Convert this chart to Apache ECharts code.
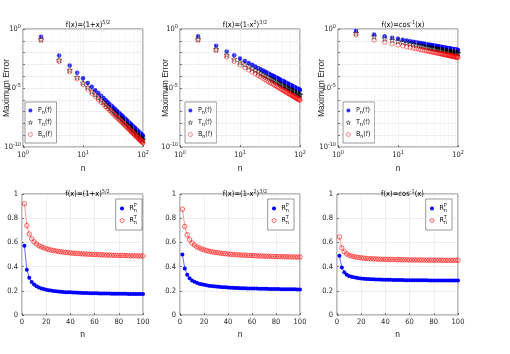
<!DOCTYPE html>
<html>
<head>
<meta charset="utf-8">
<script src="https://cdn.jsdelivr.net/npm/echarts@6/dist/echarts.min.js"></script>
<style>
  html, body { margin: 0; padding: 0; background: #fff; }
  #main { width: 510px; height: 354px; }
</style>
</head>
<body>
<div id="main"></div>
<script>
// n = 2, 4, ..., 100
const nVals = [2, 4, 6, 8, 10, 12, 14, 16, 18, 20, 22, 24, 26, 28, 30, 32, 34, 36, 38, 40,
  42, 44, 46, 48, 50, 52, 54, 56, 58, 60, 62, 64, 66, 68, 70, 72, 74, 76, 78, 80,
  82, 84, 86, 88, 90, 92, 94, 96, 98, 100];

// log-axis minor grid positions
const minorX = [2, 3, 4, 5, 6, 7, 8, 9, 20, 30, 40, 50, 60, 70, 80, 90];

const titles = ['f(x)=(1+x){sup|5/2}', 'f(x)=(1-x{sup|2}){sup|3/2}', 'f(x)=cos{sup|-1}(x)'];

// maximum error, f(x)=(1+x)^(5/2)
const P1 = [2.2e-1, 5.8e-3, 8.0e-4, 1.95e-4, 6.6e-5, 2.7e-5, 1.27e-5, 6.6e-6, 3.7e-6, 2.23e-6,
  1.41e-6, 9.2e-7, 6.2e-7, 4.3e-7, 3.1e-7, 2.25e-7, 1.68e-7, 1.27e-7, 9.7e-8, 7.6e-8,
  6.0e-8, 4.8e-8, 3.8e-8, 3.1e-8, 2.55e-8, 2.1e-8, 1.76e-8, 1.47e-8, 1.24e-8, 1.05e-8,
  9.0e-9, 7.7e-9, 6.6e-9, 5.7e-9, 4.9e-9, 4.3e-9, 3.8e-9, 3.3e-9, 2.9e-9, 2.6e-9,
  2.28e-9, 2.04e-9, 1.82e-9, 1.63e-9, 1.45e-9, 1.3e-9, 1.17e-9, 1.06e-9, 9.6e-10, 8.7e-10];
const T1 = [1.32e-1, 2.4e-3, 3.35e-4, 8.3e-5, 2.8e-5, 1.16e-5, 5.5e-6, 2.9e-6, 1.63e-6, 9.8e-7,
  6.2e-7, 4.05e-7, 2.74e-7, 1.92e-7, 1.37e-7, 1.0e-7, 7.5e-8, 5.7e-8, 4.3e-8, 3.4e-8,
  2.69e-8, 2.16e-8, 1.72e-8, 1.41e-8, 1.15e-8, 9.5e-9, 8.0e-9, 6.7e-9, 5.6e-9, 4.8e-9,
  4.07e-9, 3.48e-9, 2.98e-9, 2.61e-9, 2.25e-9, 1.97e-9, 1.72e-9, 1.5e-9, 1.33e-9, 1.18e-9,
  1.04e-9, 9.3e-10, 8.3e-10, 7.5e-10, 6.6e-10, 5.9e-10, 5.35e-10, 4.84e-10, 4.38e-10, 3.96e-10];
const B1 = [1.17e-1, 1.82e-3, 2.45e-4, 5.9e-5, 1.97e-5, 8.0e-6, 3.72e-6, 1.93e-6, 1.08e-6, 6.4e-7,
  4.03e-7, 2.61e-7, 1.76e-7, 1.22e-7, 8.65e-8, 6.28e-8, 4.67e-8, 3.52e-8, 2.68e-8, 2.09e-8,
  1.64e-8, 1.31e-8, 1.04e-8, 8.49e-9, 6.94e-9, 5.72e-9, 4.75e-9, 3.97e-9, 3.34e-9, 2.82e-9,
  2.4e-9, 2.05e-9, 1.75e-9, 1.53e-9, 1.31e-9, 1.15e-9, 1.0e-9, 8.75e-10, 7.74e-10, 6.81e-10,
  6.02e-10, 5.37e-10, 4.79e-10, 4.29e-10, 3.8e-10, 3.41e-10, 3.07e-10, 2.77e-10, 2.5e-10, 2.26e-10];

// f(x)=(1-x^2)^(3/2)
const P2 = [2.4e-1, 3.74e-2, 1.26e-2, 5.85e-3, 3.21e-3, 1.97e-3, 1.3e-3, 9.12e-4, 6.65e-4, 5.01e-4,
  3.89e-4, 3.08e-4, 2.48e-4, 2.04e-4, 1.69e-4, 1.42e-4, 1.21e-4, 1.04e-4, 8.95e-5, 7.82e-5,
  6.87e-5, 6.07e-5, 5.37e-5, 4.81e-5, 4.3e-5, 3.87e-5, 3.51e-5, 3.18e-5, 2.9e-5, 2.64e-5,
  2.42e-5, 2.22e-5, 2.04e-5, 1.89e-5, 1.75e-5, 1.62e-5, 1.51e-5, 1.4e-5, 1.31e-5, 1.22e-5,
  1.14e-5, 1.07e-5, 1.01e-5, 9.48e-6, 8.91e-6, 8.38e-6, 7.93e-6, 7.5e-6, 7.1e-6, 6.71e-6];
const T2 = [1.35e-1, 1.96e-2, 6.35e-3, 2.87e-3, 1.54e-3, 9.26e-4, 6.02e-4, 4.17e-4, 3.01e-4, 2.24e-4,
  1.72e-4, 1.35e-4, 1.08e-4, 8.81e-5, 7.25e-5, 6.05e-5, 5.13e-5, 4.38e-5, 3.75e-5, 3.26e-5,
  2.85e-5, 2.51e-5, 2.21e-5, 1.97e-5, 1.75e-5, 1.57e-5, 1.42e-5, 1.28e-5, 1.17e-5, 1.06e-5,
  9.66e-6, 8.84e-6, 8.08e-6, 7.47e-6, 6.9e-6, 6.37e-6, 5.92e-6, 5.47e-6, 5.11e-6, 4.75e-6,
  4.42e-6, 4.14e-6, 3.9e-6, 3.65e-6, 3.42e-6, 3.21e-6, 3.03e-6, 2.87e-6, 2.71e-6, 2.55e-6];
const B2 = [1.17e-1, 1.47e-2, 4.33e-3, 1.84e-3, 9.37e-4, 5.44e-4, 3.42e-4, 2.3e-4, 1.62e-4, 1.17e-4,
  8.87e-5, 6.81e-5, 5.36e-5, 4.28e-5, 3.48e-5, 2.87e-5, 2.4e-5, 2.02e-5, 1.71e-5, 1.47e-5,
  1.27e-5, 1.1e-5, 9.67e-6, 8.51e-6, 7.53e-6, 6.7e-6, 6.0e-6, 5.37e-6, 4.84e-6, 4.36e-6,
  3.94e-6, 3.6e-6, 3.26e-6, 2.99e-6, 2.75e-6, 2.53e-6, 2.33e-6, 2.14e-6, 1.99e-6, 1.83e-6,
  1.7e-6, 1.58e-6, 1.48e-6, 1.38e-6, 1.29e-6, 1.21e-6, 1.13e-6, 1.07e-6, 1.0e-6, 9.39e-7];

// f(x)=acos(x)
const P3 = [6.76e-1, 3.5e-1, 2.38e-1, 1.81e-1, 1.47e-1, 1.23e-1, 1.06e-1, 9.38e-2, 8.39e-2, 7.59e-2,
  6.93e-2, 6.38e-2, 5.92e-2, 5.51e-2, 5.16e-2, 4.85e-2, 4.58e-2, 4.35e-2, 4.12e-2, 3.93e-2,
  3.75e-2, 3.59e-2, 3.44e-2, 3.3e-2, 3.18e-2, 3.06e-2, 2.96e-2, 2.85e-2, 2.76e-2, 2.67e-2,
  2.59e-2, 2.51e-2, 2.44e-2, 2.38e-2, 2.31e-2, 2.25e-2, 2.19e-2, 2.13e-2, 2.08e-2, 2.03e-2,
  1.99e-2, 1.94e-2, 1.9e-2, 1.86e-2, 1.82e-2, 1.78e-2, 1.75e-2, 1.71e-2, 1.67e-2, 1.64e-2];
const T3 = [4.57e-1, 2.27e-1, 1.51e-1, 1.13e-1, 9.03e-2, 7.47e-2, 6.37e-2, 5.6e-2, 4.98e-2, 4.47e-2,
  4.06e-2, 3.71e-2, 3.43e-2, 3.18e-2, 2.96e-2, 2.78e-2, 2.61e-2, 2.48e-2, 2.33e-2, 2.22e-2,
  2.12e-2, 2.01e-2, 1.93e-2, 1.84e-2, 1.77e-2, 1.7e-2, 1.64e-2, 1.58e-2, 1.52e-2, 1.47e-2,
  1.43e-2, 1.38e-2, 1.34e-2, 1.3e-2, 1.26e-2, 1.23e-2, 1.19e-2, 1.16e-2, 1.13e-2, 1.1e-2,
  1.08e-2, 1.05e-2, 1.03e-2, 1.0e-2, 9.79e-3, 9.56e-3, 9.4e-3, 9.17e-3, 8.95e-3, 8.77e-3];
const B3 = [3.31e-1, 1.17e-1, 7.67e-2, 5.68e-2, 4.49e-2, 3.71e-2, 3.16e-2, 2.74e-2, 2.42e-2, 2.17e-2,
  1.96e-2, 1.79e-2, 1.64e-2, 1.52e-2, 1.42e-2, 1.32e-2, 1.24e-2, 1.17e-2, 1.1e-2, 1.05e-2,
  9.95e-3, 9.48e-3, 9.04e-3, 8.65e-3, 8.28e-3, 7.94e-3, 7.64e-3, 7.36e-3, 7.1e-3, 6.84e-3,
  6.61e-3, 6.4e-3, 6.18e-3, 6.0e-3, 5.82e-3, 5.65e-3, 5.5e-3, 5.33e-3, 5.19e-3, 5.06e-3,
  4.92e-3, 4.81e-3, 4.69e-3, 4.58e-3, 4.47e-3, 4.37e-3, 4.27e-3, 4.18e-3, 4.09e-3, 4.0e-3];

// ratios R_n^P, R_n^T
const RP1 = [.573, .375, .307, .273, .252, .238, .228, .220, .214, .209, .205, .202, .199, .196, .194, .192, .191, .189, .188, .187,
  .186, .185, .184, .183, .182, .182, .181, .180, .180, .179, .179, .178, .178, .177, .177, .177, .176, .176, .176, .175,
  .175, .175, .175, .174, .174, .174, .174, .173, .173, .173];
const RT1 = [.920, .739, .669, .630, .604, .587, .573, .563, .555, .548, .542, .537, .533, .529, .525, .523, .520, .517, .515, .513,
  .511, .510, .508, .507, .505, .504, .503, .502, .501, .500, .499, .498, .497, .496, .496, .495, .494, .494, .493, .492,
  .492, .491, .491, .490, .490, .489, .489, .488, .488, .488];
const RP2 = [.500, .385, .333, .303, .286, .275, .266, .259, .254, .249, .246, .242, .240, .237, .235, .233, .231, .230, .229, .227,
  .226, .225, .224, .223, .222, .222, .221, .220, .219, .219, .218, .218, .217, .217, .216, .216, .215, .215, .215, .214,
  .214, .213, .213, .213, .213, .212, .212, .212, .211, .211];
const RT2 = [.875, .732, .662, .622, .595, .578, .564, .554, .546, .539, .533, .528, .524, .520, .516, .514, .511, .508, .506, .504,
  .502, .501, .499, .498, .496, .495, .494, .493, .492, .491, .490, .489, .488, .487, .487, .486, .485, .485, .484, .483,
  .483, .482, .482, .481, .481, .480, .480, .479, .479, .479];
const RP3 = [.489, .392, .354, .333, .323, .316, .311, .307, .304, .302, .300, .298, .297, .296, .295, .294, .293, .293, .292, .291,
  .291, .291, .290, .290, .289, .289, .289, .288, .288, .288, .288, .288, .287, .287, .287, .287, .287, .286, .286, .286,
  .286, .286, .286, .286, .286, .286, .285, .285, .285, .285];
const RT3 = [.645, .554, .522, .505, .494, .487, .482, .478, .475, .472, .470, .468, .466, .465, .464, .463, .462, .461, .460, .460,
  .459, .459, .458, .458, .457, .457, .456, .456, .456, .455, .455, .455, .455, .454, .454, .454, .454, .453, .453, .453,
  .453, .453, .453, .452, .452, .452, .452, .452, .452, .452];

const errSets = [[P1, T1, B1], [P2, T2, B2], [P3, T3, B3]];
const ratioSets = [[RP1, RT1], [RP2, RT2], [RP3, RT3]];

const NARROW = "'Liberation Sans Narrow', 'DejaVu Sans Condensed', 'Liberation Sans', sans-serif";
const SANS = "'Liberation Sans', Arial, sans-serif";
const AX = '#262626';
const STAR = 'path://M0,-10L2.35,-3.24L9.51,-3.09L3.8,1.24L5.88,8.09L0,4L-5.88,8.09L-3.8,1.24L-9.51,-3.09L-2.35,-3.24Z';

const rich = {
  sup: { fontSize: 5.5, lineHeight: 6, verticalAlign: 'top', fontFamily: NARROW, color: AX },
  sub: { fontSize: 5.5, lineHeight: 6, verticalAlign: 'bottom', fontFamily: NARROW, color: '#000' },
  subz: { fontSize: 5.5, lineHeight: 6, verticalAlign: 'bottom', width: 0, fontFamily: NARROW, color: '#000' }
};

const gridPos = [
  { left: 23, top: 29, width: 120, height: 118 },
  { left: 180, top: 29, width: 120, height: 118 },
  { left: 338, top: 29, width: 120, height: 118 },
  { left: 22, top: 194, width: 121, height: 121 },
  { left: 180, top: 194, width: 120, height: 121 },
  { left: 337, top: 194, width: 121, height: 121 }
];

function zip(ys) {
  return nVals.map((n, i) => [n, ys[i]]);
}

function decadeLabel(v) {
  const e = Math.round(Math.log10(v));
  return '10{sup|' + e + '}';
}

function errLabel(v) {
  const e = Math.round(Math.log10(v));
  if (e % 5 !== 0) return '';
  return '10{sup|' + e + '}';
}

const legendText = {
  P: 'P{sub|n}(f)', T: 'T{sub|n}(f)', B: 'B{sub|n}(f)',
  RP: 'R{subz|n}{sup|P}', RT: 'R{subz|n}{sup|T}'
};

const blueDot = { color: '#0000ff', borderWidth: 0 };
const redRing = { color: 'rgba(0,0,0,0)', borderColor: '#ff0000', borderWidth: 0.6 };
const blackStar = { color: 'rgba(0,0,0,0)', borderColor: '#000', borderWidth: 0.6 };

const axisCommon = {
  axisLine: { show: false },
  axisTick: { show: true, inside: true, length: 2, lineStyle: { color: AX, width: 0.6 } },
  splitLine: { show: true, lineStyle: { color: '#e4e4e4', width: 0.6 } },
  nameMoveOverlap: false,
  nameTextStyle: { fontFamily: SANS, fontSize: 8.5, color: AX }
};

const grid = gridPos.map(p => Object.assign({
  show: true, borderColor: AX, borderWidth: 0.6, backgroundColor: '#fff',
  containLabel: false, outerBoundsMode: 'none'
}, p));

const title = [];
const xAxis = [];
const yAxis = [];
const series = [];
const legend = [];

const legendBase = {
  orient: 'vertical', backgroundColor: '#fff', borderColor: '#555', borderWidth: 0.6,
  padding: [3, 4, 3, 3], itemWidth: 5, itemHeight: 4, itemGap: 1,
  selectedMode: false,
  textStyle: { fontFamily: NARROW, fontSize: 7, lineHeight: 11, color: '#000', rich: rich },
  formatter: name => legendText[name.replace(/\d/g, '')]
};

const topLegendLeft = [25, 185, 343];
const botLegendRight = [368, 216, 58];

for (let i = 0; i < 6; i++) {
  const p = gridPos[i];
  title.push({
    text: titles[i % 3],
    left: p.left + p.width / 2, top: i < 3 ? 15 : 183.5, textAlign: 'center',
    textStyle: { fontFamily: NARROW, fontSize: 7.5, fontWeight: 'normal', color: '#000', lineHeight: 11, rich: rich }
  });
}

// top row: maximum error, log-log
for (let i = 0; i < 3; i++) {
  xAxis.push(Object.assign({}, axisCommon, {
    gridIndex: i, type: 'log', logBase: 10, min: 1, max: 100, interval: 1,
    name: 'n', nameLocation: 'middle', nameGap: 17,
    axisLabel: { formatter: decadeLabel, fontFamily: NARROW, fontSize: 7.5, color: AX, margin: 3, lineHeight: 11, rich: rich }
  }));
  yAxis.push(Object.assign({}, axisCommon, {
    gridIndex: i, type: 'log', logBase: 10, min: 1e-10, max: 1, interval: 1,
    name: 'Maximum Error', nameLocation: 'middle', nameGap: i === 1 ? 10 : 12,
    axisLabel: { formatter: errLabel, fontFamily: NARROW, fontSize: 7.5, color: AX, margin: 2, lineHeight: 11, rich: rich }
  }));

  // minor vertical grid lines at 2..9, 20..90
  series.push({
    name: 'minor' + i, type: 'line', xAxisIndex: i, yAxisIndex: i, data: [], z: 1,
    markLine: {
      silent: true, symbol: 'none', label: { show: false }, animation: false,
      lineStyle: { color: '#e8e8e8', width: 0.6, type: 'dotted' },
      data: minorX.map(v => ({ xAxis: v }))
    }
  });

  const [P, T, B] = errSets[i];
  series.push({
    name: 'P' + (i + 1), type: 'scatter', xAxisIndex: i, yAxisIndex: i, z: 3,
    symbol: 'circle', symbolSize: 4.5, itemStyle: blueDot,
    data: zip(P)
  });
  series.push({
    name: 'T' + (i + 1), type: 'scatter', xAxisIndex: i, yAxisIndex: i, z: 4,
    symbol: STAR, symbolSize: 5.5, itemStyle: blackStar,
    data: zip(T)
  });
  series.push({
    name: 'B' + (i + 1), type: 'scatter', xAxisIndex: i, yAxisIndex: i, z: 5,
    symbol: 'circle', symbolSize: 4.5, itemStyle: redRing,
    data: zip(B)
  });

  legend.push(Object.assign({}, legendBase, {
    left: topLegendLeft[i], top: 102,
    data: [
      { name: 'P' + (i + 1), icon: 'circle', itemStyle: blueDot },
      { name: 'T' + (i + 1), icon: STAR, itemStyle: blackStar },
      { name: 'B' + (i + 1), icon: 'circle', itemStyle: redRing }
    ]
  }));
}

// bottom row: ratios, linear axes
for (let i = 0; i < 3; i++) {
  const g = i + 3;
  xAxis.push(Object.assign({}, axisCommon, {
    gridIndex: g, type: 'value', min: 0, max: 100, interval: 20,
    name: 'n', nameLocation: 'middle', nameGap: 15,
    axisLabel: { fontFamily: NARROW, fontSize: 7.5, color: AX, margin: 3 }
  }));
  yAxis.push(Object.assign({}, axisCommon, {
    gridIndex: g, type: 'value', min: 0, max: 1, interval: 0.2,
    axisLabel: { fontFamily: NARROW, fontSize: 7.5, color: AX, margin: 4 }
  }));

  const [RP, RT] = ratioSets[i];
  series.push({
    name: 'RP' + (i + 1), type: 'line', xAxisIndex: g, yAxisIndex: g, z: 3,
    symbol: 'circle', symbolSize: 4, showSymbol: true,
    itemStyle: blueDot,
    lineStyle: { color: '#0000ff', width: 0.6 },
    data: zip(RP)
  });
  series.push({
    name: 'RT' + (i + 1), type: 'line', xAxisIndex: g, yAxisIndex: g, z: 4,
    symbol: 'circle', symbolSize: 4.5, showSymbol: true,
    itemStyle: redRing,
    lineStyle: { color: '#ff5050', width: 0.6 },
    data: zip(RT)
  });

  legend.push(Object.assign({}, legendBase, {
    right: botLegendRight[i], top: 199,
    padding: [4, 5, 4, 4], itemGap: 1,
    data: [
      { name: 'RP' + (i + 1), icon: 'circle', itemStyle: blueDot },
      { name: 'RT' + (i + 1), icon: 'circle', itemStyle: redRing }
    ]
  }));
}

const myChart = echarts.init(document.getElementById('main'));
myChart.setOption({
  animation: false,
  backgroundColor: '#fff',
  title: title,
  legend: legend,
  grid: grid,
  xAxis: xAxis,
  yAxis: yAxis,
  series: series
});
</script>
</body>
</html>
